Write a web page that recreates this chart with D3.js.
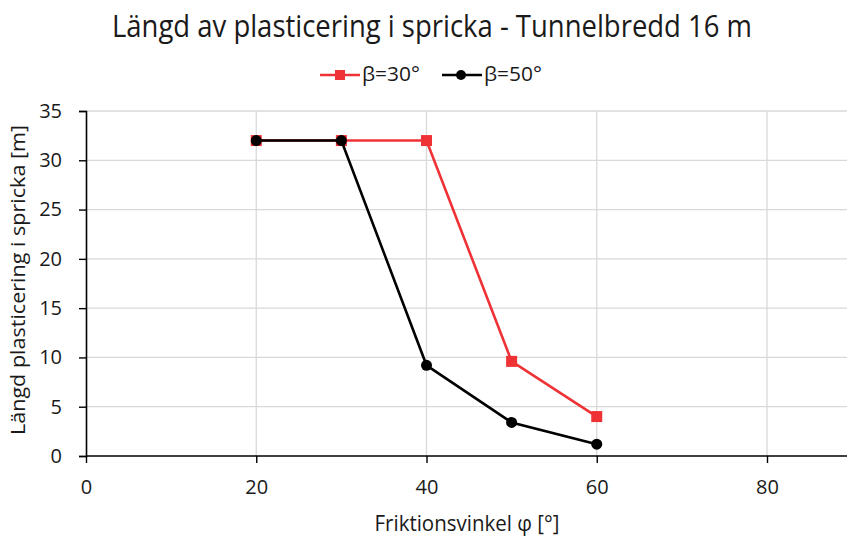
<!DOCTYPE html>
<html>
<head>
<meta charset="utf-8">
<script src="https://cdn.jsdelivr.net/npm/d3@7"></script>
<style>
  html, body { margin: 0; padding: 0; background: #fff; }
  svg text { font-family: "Open Sans", sans-serif; fill: #1a1a1a; }
</style>
</head>
<body>
<svg id="chart" width="847" height="537"></svg>
<script>
// Friction angle (x) and plastic zone length along the crack (y)
const frictionAngles = [20, 30, 40, 50, 60];
const beta30 = [32, 32, 32, 9.6, 4.0];
const beta50 = [32, 32, 9.2, 3.4, 1.2];
const seriesNames = ["β=30°", "β=50°"];
const xTicks = [0, 20, 40, 60, 80];
const yTicks = [0, 5, 10, 15, 20, 25, 30, 35];

(function () {
const svg = d3.select("#chart");
const W = 847;
const plotLeft = 86, plotBottom = 456, plotTop = 111;

const x = d3.scaleLinear().domain([0, 90]).range([plotLeft, plotLeft + 8.5125 * 90]);
const y = d3.scaleLinear().domain([0, 35]).range([plotBottom, plotTop]);

// Gridlines
svg.append("g")
  .selectAll("line").data(yTicks.filter(d => d > 0)).join("line")
  .attr("x1", plotLeft).attr("x2", W)
  .attr("y1", d => y(d)).attr("y2", d => y(d))
  .attr("stroke", "#d9d9d9").attr("stroke-width", 1.3);
svg.append("g")
  .selectAll("line").data(xTicks.filter(d => d > 0)).join("line")
  .attr("x1", d => x(d)).attr("x2", d => x(d))
  .attr("y1", plotTop).attr("y2", plotBottom)
  .attr("stroke", "#d9d9d9").attr("stroke-width", 1.3);

// Axes
const xAxis = svg.append("g").attr("transform", `translate(0,${plotBottom})`)
  .call(d3.axisBottom(x).tickValues(xTicks).tickSize(7).tickPadding(17).tickFormat(d3.format("d")));
const yAxis = svg.append("g").attr("transform", `translate(${plotLeft},0)`)
  .call(d3.axisLeft(y).tickValues(yTicks).tickSize(7).tickPadding(17).tickFormat(d3.format("d")));
[xAxis, yAxis].forEach(g => {
  g.select(".domain").attr("stroke", "#000").attr("stroke-width", 1.6);
  g.selectAll(".tick line").attr("stroke", "#000").attr("stroke-width", 1.4);
  g.selectAll(".tick text").attr("font-size", 20).attr("fill", "#1a1a1a")
    .style("font-family", '"Open Sans", sans-serif');
});
xAxis.select(".domain").attr("d", `M${plotLeft},0H${W}`);

// Series lines and markers
const line = d3.line().x(d => x(d[0])).y(d => y(d[1]));
const red = "#ee3236";
const pts30 = frictionAngles.map((a, i) => [a, beta30[i]]);
const pts50 = frictionAngles.map((a, i) => [a, beta50[i]]);

svg.append("path").datum(pts30).attr("d", line)
  .attr("fill", "none").attr("stroke", red).attr("stroke-width", 2.6);
svg.append("g").selectAll("rect").data(pts30).join("rect")
  .attr("x", d => x(d[0]) - 5.5).attr("y", d => y(d[1]) - 5.5)
  .attr("width", 11).attr("height", 11).attr("fill", red);

svg.append("path").datum(pts50).attr("d", line)
  .attr("fill", "none").attr("stroke", "#000").attr("stroke-width", 2.6);
svg.append("g").selectAll("circle").data(pts50).join("circle")
  .attr("cx", d => x(d[0])).attr("cy", d => y(d[1])).attr("r", 5.5).attr("fill", "#000");

// Title
svg.append("text").attr("x", 432).attr("y", 37).attr("text-anchor", "middle")
  .attr("font-size", 31).attr("textLength", 640).attr("lengthAdjust", "spacingAndGlyphs")
  .text("Längd av plasticering i spricka - Tunnelbredd 16 m");

// Legend
const legend = svg.append("g");
const lg = [
  { name: seriesNames[0], x0: 320, color: red, shape: "rect" },
  { name: seriesNames[1], x0: 442, color: "#000", shape: "circle" }
];
lg.forEach(l => {
  legend.append("line").attr("x1", l.x0).attr("x2", l.x0 + 40).attr("y1", 75).attr("y2", 75)
    .attr("stroke", l.color).attr("stroke-width", 2.6);
  if (l.shape === "rect") {
    legend.append("rect").attr("x", l.x0 + 15).attr("y", 70).attr("width", 10).attr("height", 10).attr("fill", l.color);
  } else {
    legend.append("circle").attr("cx", l.x0 + 19).attr("cy", 75).attr("r", 5).attr("fill", l.color);
  }
  legend.append("text").attr("x", l.x0 + 42).attr("y", 81).attr("font-size", 20)
    .attr("textLength", 58).attr("lengthAdjust", "spacingAndGlyphs").text(l.name);
});

// Axis titles
svg.append("text").attr("x", 467).attr("y", 531).attr("text-anchor", "middle")
  .attr("font-size", 21).attr("textLength", 185).attr("lengthAdjust", "spacingAndGlyphs")
  .text("Friktionsvinkel φ [°]");
svg.append("text").attr("transform", "translate(25,280) rotate(-90)")
  .attr("text-anchor", "middle").attr("font-size", 20)
  .attr("textLength", 310).attr("lengthAdjust", "spacingAndGlyphs")
  .text("Längd plasticering i spricka [m]");
})();
</script>
</body>
</html>
